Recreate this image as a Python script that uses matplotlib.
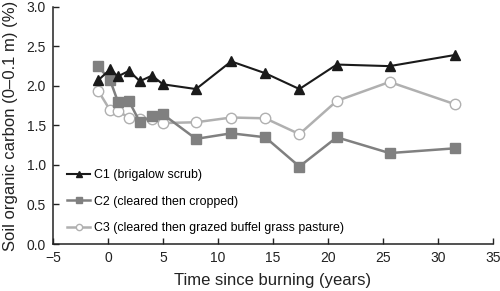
import matplotlib
matplotlib.use("Agg")
import matplotlib.pyplot as plt

plt.rcParams["font.family"] = ["Liberation Sans", "DejaVu Sans"]

# time since burning (years)
t = [-0.9, 0.2, 0.9, 1.9, 2.9, 4.0, 5.0, 8.0, 11.2, 14.3, 17.4, 20.8, 25.6, 31.5]

# soil organic carbon (%)
c1 = [2.07, 2.21, 2.12, 2.19, 2.06, 2.13, 2.02, 1.96, 2.31, 2.16, 1.96, 2.27, 2.25, 2.39]
c2 = [2.25, 2.07, 1.80, 1.81, 1.54, 1.62, 1.64, 1.33, 1.40, 1.35, 0.98, 1.35, 1.15, 1.21]
c3 = [1.94, 1.69, 1.68, 1.60, 1.58, 1.58, 1.53, 1.54, 1.60, 1.59, 1.39, 1.81, 2.05, 1.77]

labels = [
    "C1 (brigalow scrub)",
    "C2 (cleared then cropped)",
    "C3 (cleared then grazed buffel grass pasture)",
]

fig = plt.figure(figsize=(5.0, 2.91), dpi=100)
ax = fig.add_axes([0.106, 0.1615, 0.88, 0.815])

ax.plot(t, c1, color="#1a1a1a", lw=1.5, marker="^", ms=7.5, label=labels[0], zorder=4)
ax.plot(t, c2, color="#808080", lw=1.8, marker="s", ms=7, label=labels[1], zorder=3)
ax.plot(t, c3, color="#b0b0b0", lw=1.8, marker="o", ms=7.5, mfc="white",
        mec="#b0b0b0", mew=1.0, label=labels[2], zorder=2)

ax.set_xlim(-5, 35)
ax.set_ylim(0, 3.0)
ax.set_xticks(range(-5, 36, 5))
ax.set_yticks([0, 0.5, 1.0, 1.5, 2.0, 2.5, 3.0])
ax.set_yticklabels(["0.0", "0.5", "1.0", "1.5", "2.0", "2.5", "3.0"])
ax.tick_params(direction="in", length=4, width=1, labelsize=10, pad=5, colors="#222222")
ax.spines["top"].set_visible(False)
ax.spines["right"].set_visible(False)
for s in ("left", "bottom"):
    ax.spines[s].set_linewidth(1.1)
    ax.spines[s].set_color("#222222")

ax.set_xlabel("Time since burning (years)", fontsize=12, color="#222222", labelpad=6)
ax.set_ylabel("Soil organic carbon (0\u20130.1 m) (%)", fontsize=12, color="#222222", labelpad=6)

ax.legend(loc="lower left", bbox_to_anchor=(0.021, 0.022), frameon=False, fontsize=8.9,
          markerscale=0.6, handlelength=1.85, handletextpad=0.35, labelspacing=1.15,
          borderaxespad=0)

fig.savefig("out.png", dpi=100)
